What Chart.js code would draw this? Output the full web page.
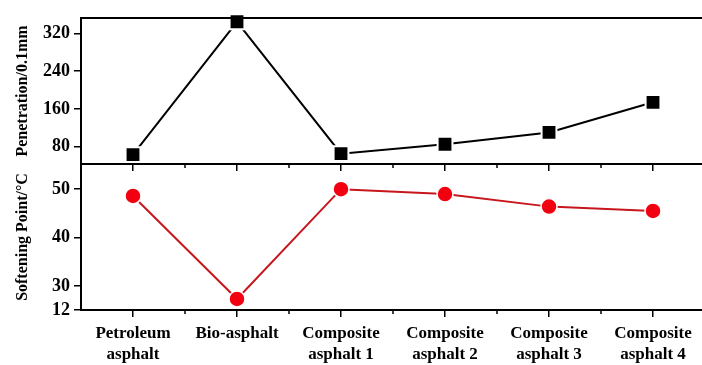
<!DOCTYPE html>
<html>
<head>
<meta charset="utf-8">
<script src="https://cdn.jsdelivr.net/npm/chart.js@4.4.1/dist/chart.umd.min.js"></script>
<style>
  body { margin: 0; background: #fff; }
  #wrap { position: relative; width: 702px; height: 365px; }
  #wrap canvas { position: absolute; left: 0; top: 0; }
</style>
</head>
<body>
<div id="wrap">
  <canvas id="topChart" width="702" height="365"></canvas>
  <canvas id="bottomChart" width="702" height="365"></canvas>
</div>
<script>
// Values
const samples = [
  ["Petroleum", "asphalt"],
  ["Bio-asphalt"],
  ["Composite", "asphalt 1"],
  ["Composite", "asphalt 2"],
  ["Composite", "asphalt 3"],
  ["Composite", "asphalt 4"]
];
const penetration = [63, 345, 65, 85, 110, 174];
const softening = [48.6, 20.3, 50, 49, 46.4, 45.5];
const penTicks = [80, 160, 240, 320];
const softTicks = [12, 30, 40, 50];

const serif = "'Liberation Serif', 'Times New Roman', serif";

// y axis with a break: everything under 30 is squeezed into the bottom strip
const breakAt = 30;
const breakShare = 0.164;
class BrokenScale extends Chart.LinearScale {
  getPixelForValue(value) {
    const span = this.bottom - this.top;
    const lowPart = span * breakShare;
    if (value < breakAt) {
      return this.bottom - (value - this.min) / (breakAt - this.min) * lowPart;
    }
    return this.bottom - lowPart - (value - breakAt) / (this.max - breakAt) * (span - lowPart);
  }
  getValueForPixel(pixel) {
    const span = this.bottom - this.top;
    const lowPart = span * breakShare;
    const up = this.bottom - pixel;
    if (up < lowPart) return this.min + up / lowPart * (breakAt - this.min);
    return breakAt + (up - lowPart) / (span - lowPart) * (this.max - breakAt);
  }
}
BrokenScale.id = "broken";
BrokenScale.defaults = Chart.LinearScale.defaults;
Chart.register(BrokenScale);

// frame line on top and the small ticks between categories
const framePlugin = {
  id: "frame",
  afterDraw(chart, args, opts) {
    const ctx = chart.ctx;
    const area = chart.chartArea;
    const xs = chart.scales.x;
    ctx.save();
    ctx.strokeStyle = "#000";
    if (opts.topLine) {
      ctx.lineWidth = 2;
      ctx.beginPath();
      ctx.moveTo(area.left - 1, area.top);
      ctx.lineTo(area.right, area.top);
      ctx.stroke();
    }
    ctx.lineWidth = 1.5;
    for (let i = 0; i < samples.length - 1; i++) {
      const px = xs.getPixelForValue(i + 0.5);
      ctx.beginPath();
      ctx.moveTo(px, xs.top);
      ctx.lineTo(px, xs.top + 4);
      ctx.stroke();
    }
    ctx.restore();
  }
};

function xAxis(showLabels, height) {
  return {
    type: "linear",
    position: "bottom",
    min: -0.5,
    max: 5.471,
    afterBuildTicks: function(scale) {
      scale.ticks = samples.map(function(s, i) { return {value: i}; });
    },
    afterFit: function(scale) {
      scale.height = height;
      scale.paddingLeft = 0;
      scale.paddingRight = 0;
    },
    grid: {display: true, drawOnChartArea: false, drawTicks: true, tickLength: 7, color: "#000", lineWidth: 1.5},
    border: {display: true, color: "#000", width: 2},
    ticks: {
      display: true,
      autoSkip: false,
      maxRotation: 0,
      padding: 6,
      color: "#000",
      font: {family: serif, size: 17, weight: "bold", lineHeight: 1.25},
      callback: function(v) { return showLabels ? samples[v] : ""; }
    }
  };
}

function yAxis(type, min, max, tickList, title) {
  return {
    type: type,
    position: "left",
    min: min,
    max: max,
    afterBuildTicks: function(scale) {
      scale.ticks = tickList.map(function(v) { return {value: v}; });
    },
    afterFit: function(scale) { scale.width = 81; },
    grid: {display: true, drawOnChartArea: false, drawTicks: true, tickLength: 7, color: "#000", lineWidth: 1.5},
    border: {display: true, color: "#000", width: 2},
    ticks: {color: "#000", padding: 4, font: {family: serif, size: 18, weight: "bold"}},
    title: {
      display: true,
      text: title,
      color: "#000",
      padding: {top: 13, bottom: 0},
      font: {family: serif, size: 16, weight: "bold"}
    }
  };
}

const common = {
  responsive: false,
  devicePixelRatio: 1,
  animation: false,
  plugins: {legend: {display: false}, tooltip: {enabled: false}}
};

function points(values) {
  return values.map(function(v, i) { return {x: i, y: v}; });
}

// upper panel: penetration
new Chart(document.getElementById("topChart"), {
  type: "line",
  data: {
    datasets: [{
      data: points(penetration),
      borderColor: "#000",
      borderWidth: 2,
      pointStyle: "rect",
      pointRadius: 10.5,
      pointBackgroundColor: "#000",
      pointBorderColor: "#fff",
      pointBorderWidth: 2,
      clip: false
    }]
  },
  options: Object.assign({}, common, {
    layout: {autoPadding: false, padding: {top: 18, left: 0, right: 0, bottom: 0}},
    plugins: Object.assign({}, common.plugins, {frame: {topLine: true}}),
    scales: {
      x: xAxis(false, 201),
      y: yAxis("linear", 43, 353, penTicks, "Penetration/0.1mm")
    }
  }),
  plugins: [framePlugin]
});

// lower panel: softening point
new Chart(document.getElementById("bottomChart"), {
  type: "line",
  data: {
    datasets: [{
      data: points(softening),
      borderColor: "#c8161d",
      borderWidth: 2,
      pointStyle: "circle",
      pointRadius: 8,
      pointBackgroundColor: "#f2000f",
      pointBorderColor: "#fff",
      pointBorderWidth: 1.5,
      clip: false
    }]
  },
  options: Object.assign({}, common, {
    layout: {autoPadding: false, padding: {top: 164, left: 0, right: 0, bottom: 0}},
    plugins: Object.assign({}, common.plugins, {frame: {topLine: false}}),
    scales: {
      x: xAxis(true, 55),
      y: yAxis("broken", 12, 55.2, softTicks, "Softening Point/°C")
    }
  }),
  plugins: [framePlugin]
});
</script>
</body>
</html>
